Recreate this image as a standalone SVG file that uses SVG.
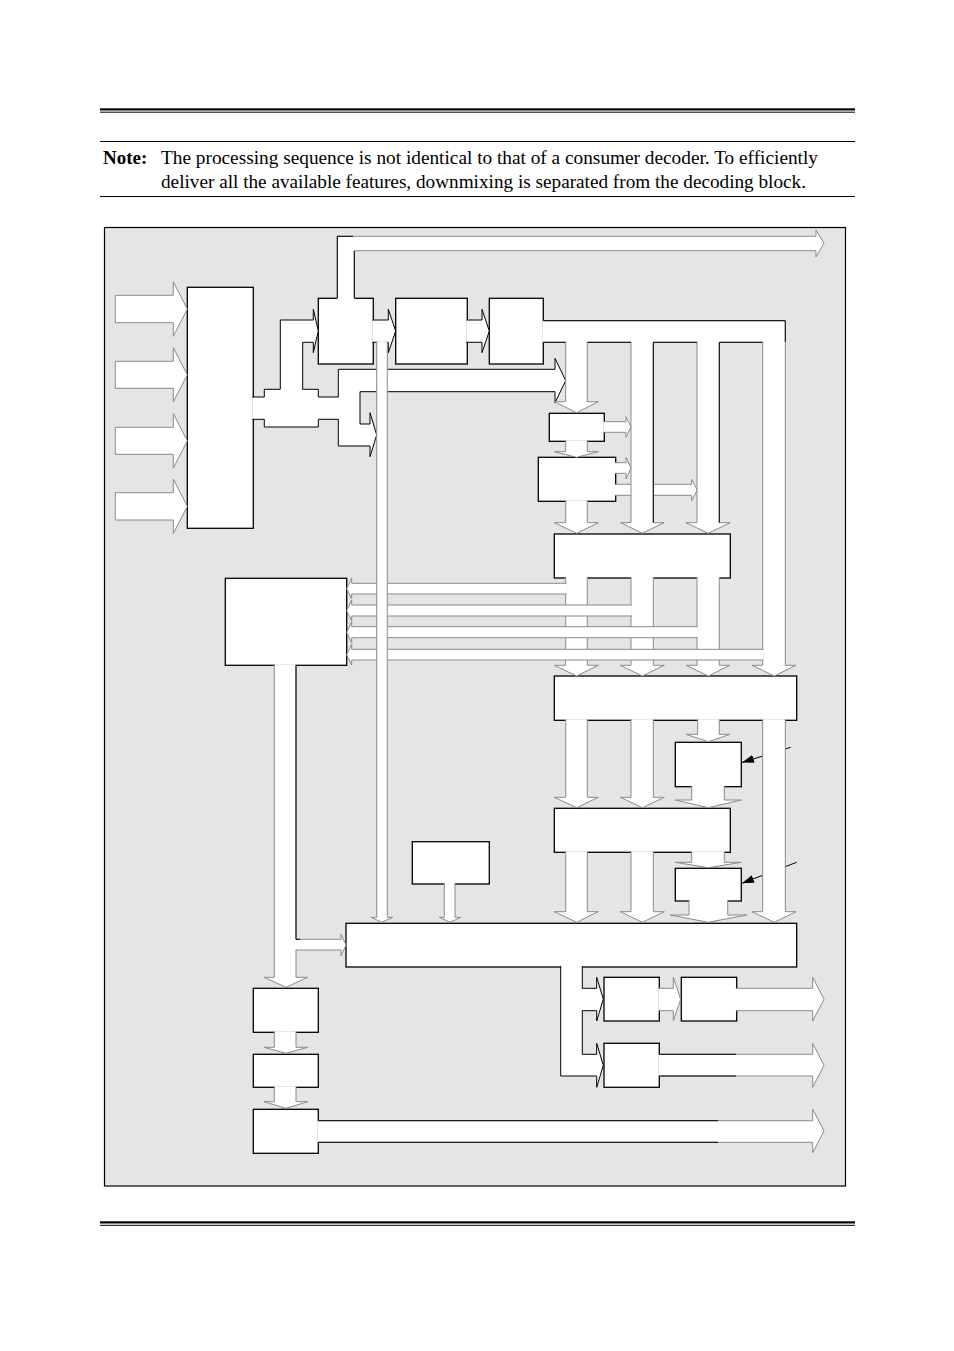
<svg xmlns="http://www.w3.org/2000/svg" width="954" height="1351" viewBox="0 0 954 1351">
<style>
.bx{fill:#fff;stroke:#000;stroke-width:1.3}
.ar{fill:#fff;stroke:#8a8a8a;stroke-width:1}
.ak{fill:#fff;stroke:#000;stroke-width:1}
.ln{fill:none;stroke:#000;stroke-width:1}
.rule{stroke:#000;fill:none}
.t{font-family:"Liberation Serif","Times New Roman",serif;font-size:19px;fill:#000}
</style>
<defs>
<marker id="ah" viewBox="0 0 12 8" refX="12" refY="4" markerWidth="12" markerHeight="8" markerUnits="userSpaceOnUse" orient="auto"><path d="M0,0 L12,4 L0,8 Z" fill="#000"/></marker>
</defs>
<rect width="954" height="1351" fill="#fff"/>
<g id="header">
<rect x="100" y="108.3" width="755" height="2.2" fill="#000"/>
<line class="rule" x1="100" y1="112.2" x2="855" y2="112.2" stroke-width="1"/>
<line class="rule" x1="100" y1="141.5" x2="855" y2="141.5" stroke-width="1"/>
<text class="t" x="103" y="163.5" font-weight="bold">Note:</text>
<text class="t" x="161" y="163.5" textLength="657" lengthAdjust="spacingAndGlyphs">The processing sequence is not identical to that of a consumer decoder. To efficiently</text>
<text class="t" x="161" y="187.5" textLength="645" lengthAdjust="spacingAndGlyphs">deliver all the available features, downmixing is separated from the decoding block.</text>
<line class="rule" x1="100" y1="196.5" x2="855" y2="196.5" stroke-width="1"/>
<rect x="100" y="1221.3" width="755" height="2.2" fill="#000"/>
<line class="rule" x1="100" y1="1225.3" x2="855" y2="1225.3" stroke-width="1"/>
</g>
<rect id="frame" x="104.5" y="227.5" width="741" height="958.5" fill="#e5e5e8" stroke="#000" stroke-width="1.2"/>
<g id="n-in"><rect class="bx" x="187.3" y="287.3" width="66" height="241"/></g>
<g id="n2"><rect class="bx" x="318.3" y="298.3" width="55" height="65.7"/></g>
<g id="n3"><rect class="bx" x="395.7" y="298.3" width="71.6" height="65.7"/></g>
<g id="n4"><rect class="bx" x="489.3" y="298.3" width="54" height="65.7"/></g>
<g id="n5"><rect class="bx" x="549.3" y="413.3" width="55" height="28"/></g>
<g id="n6"><rect class="bx" x="538.3" y="457.3" width="77.4" height="44"/></g>
<g id="n7"><rect class="bx" x="554.3" y="534" width="176" height="44"/></g>
<g id="n8"><rect class="bx" x="554.3" y="676" width="242.4" height="44.3"/></g>
<g id="n9"><rect class="bx" x="225.3" y="578.3" width="121.4" height="87"/></g>
<g id="n10"><rect class="bx" x="554.3" y="808.3" width="176" height="44"/></g>
<g id="n11a"><rect class="bx" x="675.3" y="742.3" width="66" height="44.4"/></g>
<g id="n11b"><rect class="bx" x="675.3" y="868.3" width="66" height="32.7"/></g>
<g id="n12"><rect class="bx" x="346" y="923.3" width="450.7" height="43.7"/></g>
<g id="n13"><rect class="bx" x="412.3" y="841.7" width="77" height="42.3"/></g>
<g id="n14"><rect class="bx" x="253.3" y="988.3" width="65" height="44"/></g>
<g id="n15"><rect class="bx" x="253.3" y="1054.3" width="65" height="33"/></g>
<g id="n16"><rect class="bx" x="253.3" y="1109.3" width="65" height="44"/></g>
<g id="n17"><rect class="bx" x="604" y="977.3" width="55.3" height="43.7"/></g>
<g id="n18"><rect class="bx" x="681.3" y="977.3" width="55.4" height="43.7"/></g>
<g id="n19"><rect class="bx" x="604" y="1043.3" width="55.3" height="44"/></g>
<g id="connectors">
<!-- inputs -->
<path class="ar" d="M115.3,295.3 H173.3 V281.7 L187.3,309 L173.3,336.3 V322.7 H115.3 Z"/>
<path class="ar" d="M115.3,361.3 H173.3 V347.7 L187.3,374.8 L173.3,401.9 V388.3 H115.3 Z"/>
<path class="ar" d="M115.3,427.3 H173.3 V413.5 L187.3,440.8 L173.3,468.1 V454.3 H115.3 Z"/>
<path class="ar" d="M115.3,492.7 H173.3 V479 L187.3,506.3 L173.3,533.6 V520 H115.3 Z"/>
<!-- box6 right 2 (under branch B) -->
<path class="ar" d="M614.7,484.3 H691.7 V479.3 L697.3,490 L691.7,500.7 V495.3 H614.7"/>
<path class="ar" d="M603.3,421.7 H626 V416.7 L631,427 L626,437.3 V432.3 H603.3"/>
<path class="ar" d="M614.7,462.7 H626 V457.3 L631,468.2 L626,479 V473.3 H614.7"/>
<!-- top pipe -->
<path class="ar" d="M337.3,299.3 V236.3 H816 V230 L824,243.3 L816,257 V250.7 H354.3 V299.3"/>
<path class="ln" d="M337.3,298 V236.3 H353 M354.3,298 V251"/>
<!-- chain 2-3-4 -->
<path class="ak" d="M372.3,320 H388.3 V309.3 L395.7,331 L388.3,352.7 V342.3 H372.3"/>
<path class="ak" d="M466.3,320 H482 V309.3 L489.3,331 L482,352.7 V342.3 H466.3"/>
<!-- left tree -->
<path class="ak" d="M252.3,397 H264.3 V389.3 H280.3 V320 H313.3 V309.3 L318.3,331 L313.3,352.7 V342.3 H302.7 V389.3 H318.3 V397 H338.3 V369.3 H555 V358.3 L565.7,380.7 L555,402.7 V391.7 H360 V424 H370 V412.7 L376.7,435 L370,456.7 V446 H338.3 V419.3 H318.3 V427 H264.3 V419.3 H252.3"/>
<!-- box4 bus -->
<path class="ar" d="M542.3,320.7 H785.3 V665.3 H796 L774.3,676 L752,665.3 H762.7 V342.3 H719.3 V522.7 H730 L708.3,533.3 L686,522.7 H697 V342.3 H653.3 V522.7 H664 L642.3,533.3 L620.7,522.7 H631 V342.3 H587.3 V401.7 H598.3 L576.7,412.7 L554.3,401.7 H565.7 V342.3 H542.3"/>
<path class="ln" d="M543.3,320.7 H785.3 V342 M543.3,342.3 H565.7 M587.3,342.3 H631 M653.3,342.3 H697 M719.3,342.3 H762.7 M653.3,342.3 V522.7 M719.3,342.3 V522.7"/>
<!-- 5-6, 6-7 -->
<path class="ar" d="M565.7,440.3 V451.7 H554.3 L576.7,457.3 L598.3,451.7 H587.3 V440.3"/>
<path class="ar" d="M565.7,500.3 V522.7 H554.3 L576.7,533.3 L598.3,522.7 H587.3 V500.3"/>
<!-- 7-8 -->
<path class="ar" d="M565.7,577 V665.3 H554.3 L576.7,676 L598.3,665.3 H587.3 V577"/>
<path class="ar" d="M631,577 V665.3 H620.3 L642.3,676 L664.3,665.3 H653.3 V577"/>
<path class="ar" d="M697,577 V665.3 H686 L708.3,676 L730,665.3 H719.3 V577"/>
<!-- annotation lines (under D) -->
<path class="ln" d="M790.7,747.3 L742,762.5" marker-end="url(#ah)"/>
<path class="ln" d="M796.7,862.3 L742,883.2" marker-end="url(#ah)"/>
<!-- below 8 -->
<path class="ar" d="M565.7,719.3 V797.3 H554.3 L576.7,807.7 L598.3,797.3 H587.3 V719.3"/>
<path class="ar" d="M631,719.3 V797.3 H620.3 L642.3,807.7 L664.3,797.3 H653.3 V719.3"/>
<path class="ar" d="M697.7,719.3 V734.3 H686 L708.3,741.7 L730,734.3 H719.3 V719.3"/>
<path class="ar" d="M762.7,719.3 V911.7 H752 L774.3,922.3 L796,911.7 H785.3 V719.3"/>
<path class="ar" d="M691.7,785.7 V800 H675.3 L708.3,807.7 L741.3,800 H724.3 V785.7"/>
<path class="ar" d="M565.7,851.3 V911.7 H554.3 L576.7,922.3 L598.3,911.7 H587.3 V851.3"/>
<path class="ar" d="M631,851.3 V911.7 H620.3 L642.3,922.3 L664.3,911.7 H653.3 V851.3"/>
<path class="ar" d="M691.7,851.3 V862.3 H675.3 L708.3,867.7 L741.3,862.3 H724.3 V851.3"/>
<path class="ar" d="M689,900 V915 H670 L708.3,922.3 L746.7,915 H727.7 V900"/>
<!-- into box 9 -->
<path class="ar" d="M566.5,583.3 H351.7 V578.3 L346.7,588.7 L351.7,599 V594 H566.5"/>
<path class="ar" d="M631.8,605 H351.7 V600 L346.7,610.5 L351.7,621 V616 H631.8"/>
<path class="ar" d="M697.8,626.7 H351.7 V621.7 L346.7,632.2 L351.7,642.7 V637.7 H697.8"/>
<path class="ar" d="M763.5,649.3 H351.7 V644.3 L346.7,654.7 L351.7,665 V660 H763.5"/>
<!-- long vertical bus -->
<path class="ar" d="M376.7,341.5 V917.3 H371 L381.7,922.3 L392.7,917.3 H387.3 V341.5"/>
<!-- box 9 down -->
<path class="ar" d="M274.3,664.3 V977.3 H264 L286,987.3 L307.7,977.3 H296 V950 H341 V956 L346,945 L341,934.3 V939.3 H296 V664.3"/>
<path class="ln" d="M296,665.3 V939.3 H300"/>
<!-- box 13 down -->
<path class="ar" d="M444.3,883 V917.3 H439.3 L450,922.3 L461,917.3 H455 V883"/>
<!-- 14-15-16 -->
<path class="ar" d="M274.3,1031.3 V1047.3 H264 L286,1053.3 L307.7,1047.3 H296 V1031.3"/>
<path class="ar" d="M274.3,1086.3 V1101.7 H264 L286,1108.3 L307.7,1101.7 H296 V1086.3"/>
<path class="ar" d="M317.3,1120.7 H812.7 V1109.3 L824,1131 L812.7,1152.7 V1142.3 H317.3"/>
<path class="ln" d="M318.3,1120.7 H718 M318.3,1142.3 H718"/>
<!-- box 12 out -->
<path class="ak" d="M560.7,966 V1076 H596.7 V1087.3 L603.3,1065.3 L596.7,1043.3 V1054.3 H582.3 V1010.7 H596.7 V1021 L603.3,999.2 L596.7,977.3 V988.3 H582.3 V966"/>
<path class="ar" d="M658.3,988.3 H673.3 V977.3 L680.7,999.2 L673.3,1021 V1010.7 H658.3"/>
<path class="ar" d="M735.7,988.3 H812.7 V977.3 L824,999.2 L812.7,1021 V1010.7 H735.7"/>
<path class="ar" d="M658.3,1054.3 H812.7 V1043.3 L824,1065.3 L812.7,1087.3 V1076 H658.3"/>
<path class="ln" d="M659.3,1054.3 H736 M659.3,1076 H736"/>
</g>
</svg>
